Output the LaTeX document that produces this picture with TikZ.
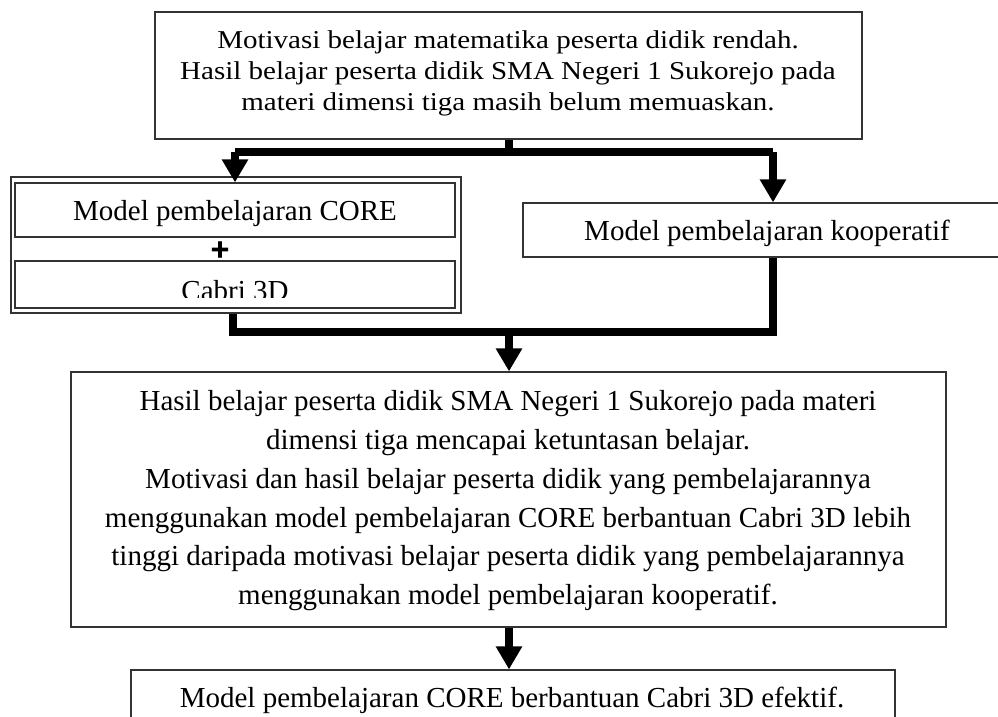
\documentclass[tikz,border=0pt]{standalone}
\usepackage{fontspec}
\setmainfont{Liberation Serif}
\newfontfamily\plusfont[FakeBold=2.5]{DejaVu Sans Bold}
\usetikzlibrary{arrows.meta}
\begin{document}
\begin{tikzpicture}[x=1pt,y=-1pt,
  box/.style={draw=black!80, line width=1.2pt, rectangle, inner sep=0pt},
  conn/.style={line width=7.5pt, line join=miter},
  arr/.style={-{Triangle[width=25pt,length=23pt]}},
  txt/.style={font=\fontsize{29}{38.8}\selectfont, inner sep=0pt, anchor=base}]
\useasboundingbox (0,0) rectangle (998,717);
% boxes
\node[box, minimum width=707pt, minimum height=127pt] (top) at (508.5,75.5) {};
\node[box, minimum width=450pt, minimum height=136pt] (outer) at (236,245) {};
\node[box, minimum width=440pt, minimum height=54pt] (core) at (235,210) {};
\node[box, minimum width=440pt, minimum height=47pt] (cabribox) at (235,284.5) {};
\node[box, minimum width=482pt, minimum height=54pt] (koop) at (764,230) {};
\node[box, minimum width=875pt, minimum height=255pt] (result) at (508.5,499.5) {};
\node[box, minimum width=764pt, minimum height=80pt] (final) at (513,710) {};
% texts
\node[txt] (toptext) at (508,48.3) {\scalebox{1}[0.886]{\fontsize{29}{35}\selectfont\begin{tabular}[t]{@{}c@{}}Motivasi belajar matematika peserta didik rendah.\\Hasil belajar peserta didik SMA Negeri 1 Sukorejo pada\\materi dimensi tiga masih belum memuaskan.\end{tabular}}};
\node[txt] (coretext) at (235,220) {Model pembelajaran CORE};
\node[font=\fontsize{25}{25}\plusfont, inner sep=0pt, anchor=center] (plus) at (220,249.5) {+};
\begin{scope}
  \clip (15,261) rectangle (455,297);
  \node[txt] (cabritext) at (235,300) {Cabri 3D};
\end{scope}
\node[txt] (kooptext) at (767,240) {Model pembelajaran kooperatif};
\node[txt] (resulttext) at (508,410.7) {\begin{tabular}[t]{@{}c@{}}Hasil belajar peserta didik SMA Negeri 1 Sukorejo pada materi\\dimensi tiga mencapai ketuntasan belajar.\\Motivasi dan hasil belajar peserta didik yang pembelajarannya\\menggunakan model pembelajaran CORE berbantuan Cabri 3D lebih\\tinggi daripada motivasi belajar peserta didik yang pembelajarannya\\menggunakan model pembelajaran kooperatif.\end{tabular}};
\node[txt] (finaltext) at (512,707) {Model pembelajaran CORE berbantuan Cabri 3D efektif.};
% connectors
\coordinate (j1) at (509,152);
\coordinate (jl) at (235,152);
\coordinate (jr) at (773,152);
\coordinate (j2) at (509,332);
\draw[conn] (top.south -| j1) -- (j1);
\draw[conn] (jl) -- (jr);
\draw[conn, arr] (jl) -- (jl |- core.north);
\draw[conn, arr] (jr) -- (jr |- koop.north);
\draw[conn] (233,0 |- outer.south) |- (773,332) -- (773,0 |- koop.south);
\draw[conn, arr] (j2) -- (j2 |- result.north);
\draw[conn, arr] (result.south -| j2) -- (j2 |- final.north);
\end{tikzpicture}
\end{document}
